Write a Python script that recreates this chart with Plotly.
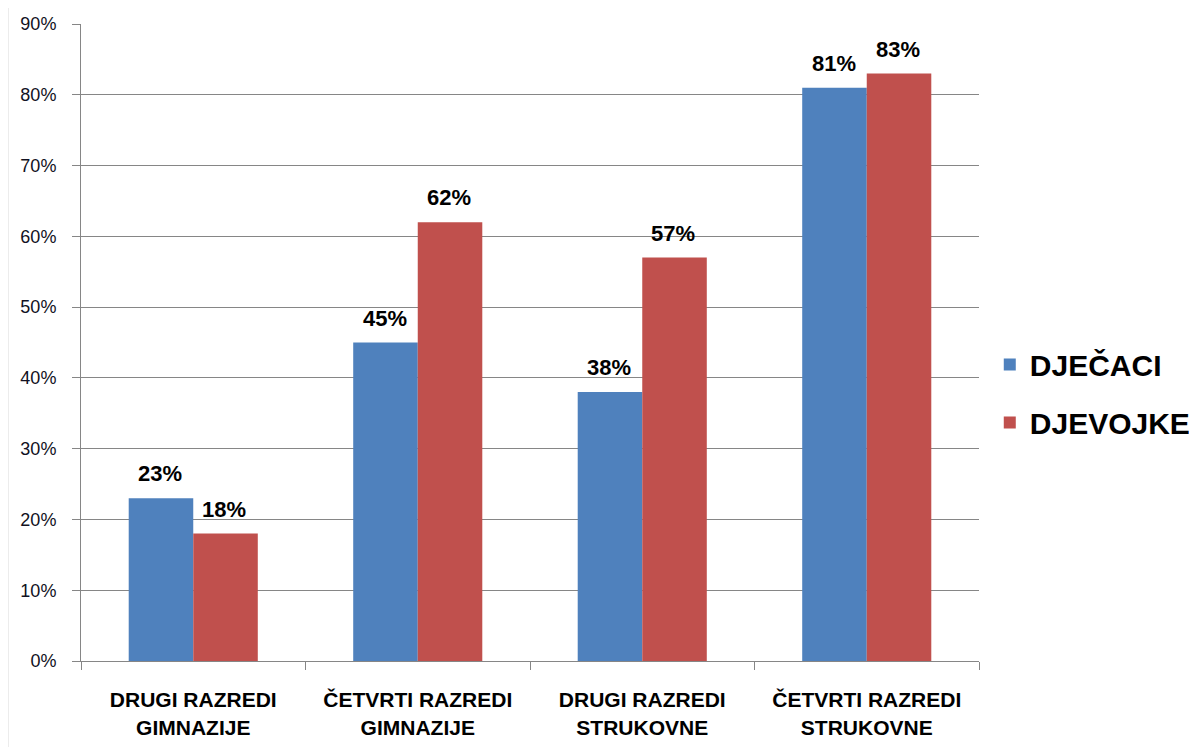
import plotly.graph_objects as go

categories = ["DRUGI RAZREDI<br>GIMNAZIJE", "ČETVRTI RAZREDI<br>GIMNAZIJE",
              "DRUGI RAZREDI<br>STRUKOVNE", "ČETVRTI RAZREDI<br>STRUKOVNE"]
series_names = ["DJEČACI", "DJEVOJKE"]
djecaci = [23, 45, 38, 81]
djevojke = [18, 62, 57, 83]
colors = ["#4F81BD", "#C0504D"]
y_ticks = [0, 10, 20, 30, 40, 50, 60, 70, 80, 90]
y_tick_labels = [f"{v}%" for v in y_ticks]

FONT = "Liberation Sans"

fig = go.Figure()
for name, vals, col in zip(series_names, [djecaci, djevojke], colors):
    fig.add_trace(go.Bar(
        x=categories, y=vals, name=f"<b>{name}</b>", marker_color=col,
        marker_line_width=0, legendgroup=name,
    ))

annotations = []
for vals, shift in [(djecaci, -32), (djevojke, 32)]:
    for c, v in zip(categories, vals):
        annotations.append(dict(
            x=c, y=v, xref="x", yref="y", text=f"<b>{v}%</b>",
            showarrow=False, yanchor="bottom", xshift=shift - 1, yshift=10,
            font=dict(family=FONT, size=22, color="#000000"),
        ))

fig.update_layout(
    width=1197, height=747,
    margin=dict(l=73, r=226, t=16, b=94, autoexpand=False),
    paper_bgcolor="white", plot_bgcolor="white",
    barmode="group", bargap=0.425, bargroupgap=0,
    font=dict(family=FONT, color="#000000"),
    annotations=annotations,
    legend=dict(
        x=1.012, y=0.42, xanchor="left", yanchor="middle",
        font=dict(family=FONT, size=30, color="#000000"),
        tracegroupgap=16, traceorder="grouped",
        itemwidth=30,
    ),
    xaxis=dict(
        automargin=False,
        showline=True, linecolor="#868686", linewidth=1,
        ticks="outside", tickson="boundaries", ticklen=8, tickcolor="#868686",
        tickfont=dict(family=FONT, size=21, color="#000000", weight="bold"),
        ticklabelstandoff=20,
        showgrid=False,
    ),
    yaxis=dict(
        automargin=False,
        range=[0, 90], tickmode="array", tickvals=y_ticks, ticktext=y_tick_labels,
        showline=True, linecolor="#868686", linewidth=1,
        ticks="outside", ticklen=8, tickcolor="#868686",
        ticklabelstandoff=12,
        showgrid=True, gridcolor="#868686", gridwidth=1,
        zeroline=False,
        tickfont=dict(family=FONT, size=18, color="#111122"),
    ),
)

fig.add_shape(type="line", xref="paper", yref="paper",
              x0=-0.0813, x1=-0.0813, y0=-0.15, y1=1.03,
              line=dict(color="#d9d9d9", width=1))

fig.write_html("out.html")
